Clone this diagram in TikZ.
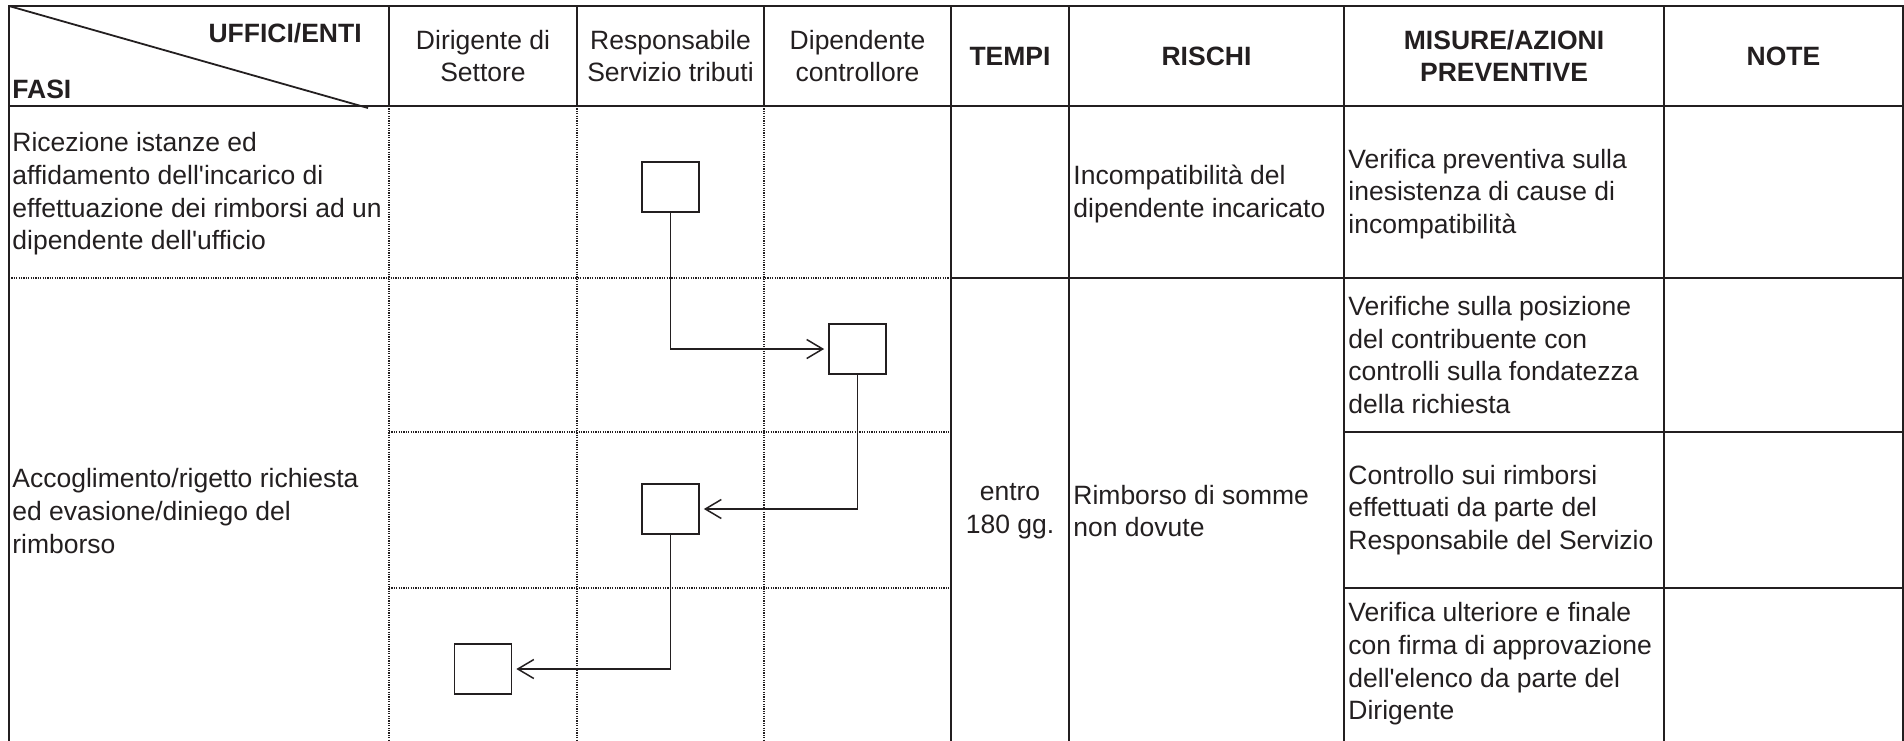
\documentclass[tikz,border=0pt]{standalone}
\usepackage{fontspec}
\setmainfont{Liberation Sans}[Ligatures=TeXOff]
\usetikzlibrary{arrows.meta}
\definecolor{ink}{RGB}{35,31,32}

\begin{document}
\begin{tikzpicture}[x=0.5pt,y=-0.5pt]
\def\ytop{6}
\def\yhd{106}
\def\yra{278}
\def\ybot{744}
\tikzset{
	every node/.style={text=ink, inner sep=0pt, font=\fontsize{13.25}{16.35}\selectfont},
	rule/.style={draw=ink, line width=1.1pt},
	dotrule/.style={draw=ink, line width=1pt, dash pattern=on 0.6pt off 0.6pt},
	head/.style={align=center},
	bold head/.style={align=center, font=\fontsize{13.25}{16.35}\selectfont\bfseries},
	cell/.style={anchor=west, align=left},
	flow box/.style={draw=ink, line width=0.85pt, minimum width=28.5pt, minimum height=25pt},
	flow/.style={draw=ink, line width=0.65pt, -{Straight Barb[length=8pt,width=9.5pt,line width=0.75pt]}, shorten >=2pt}
}
\useasboundingbox (0,0) rectangle (1904,740);
\draw[rule] (9,\ybot) -- (9,\ytop) -- (1903,\ytop) -- (1903,\ybot);
\draw[rule] (9,\yhd) -- (1903,\yhd);
\draw[dotrule] (9,\yra) -- (951,\yra);
\draw[rule] (951,\yra) -- (1903,\yra);
\foreach \x in {389,577,764}
{
	\draw[rule] (\x,\ytop) -- (\x,\yhd);
	\draw[dotrule] (\x,\yhd) -- (\x,\ybot);
}
\foreach \x in {951,1069,1344,1664}
	\draw[rule] (\x,\ytop) -- (\x,\ybot);
\foreach \y in {432,588}
{
	\draw[dotrule] (389,\y) -- (951,\y);
	\draw[rule] (1344,\y) -- (1903,\y);
}
\draw[draw=ink, line width=0.9pt] (9,\ytop) -- (368,108);
\node[bold head, anchor=base east] (uffici) at (362,42) {UFFICI/ENTI};
\node[bold head, anchor=base west] (fasi) at (12,98) {FASI};
\foreach \txt/\cx [count=\i] in {{Dirigente di\\Settore}/483, {Responsabile\\Servizio tributi}/670.5, {Dipendente\\controllore}/857.5}
	\node[head] (uff\i) at (\cx,56) {\txt};
\foreach \txt/\cx [count=\i] in {TEMPI/1010, RISCHI/1206.5, {MISURE/AZIONI\\PREVENTIVE}/1504, NOTE/1783.5}
	\node[bold head] (col\i) at (\cx,56) {\txt};
\node[cell] (fase1) at (12,194) {Ricezione istanze ed\\affidamento dell'incarico di\\effettuazione dei rimborsi ad un\\dipendente dell'ufficio};
\node[cell] (risc1) at (1073,194) {Incompatibilità del\\dipendente incaricato};
\node[cell] (mis1) at (1348,194) {Verifica preventiva sulla\\inesistenza di cause di\\incompatibilità};
\node[cell] (fase2) at (12,511) {Accoglimento/rigetto richiesta\\ed evasione/diniego del\\rimborso};
\node[head] (tempi2) at (1010,511) {entro\\180 gg.};
\node[cell] (risc2) at (1073,511) {Rimborso di somme\\non dovute};
\foreach \txt/\y [count=\i from 2] in {{Verifiche sulla posizione\\del contribuente con\\controlli sulla fondatezza\\della richiesta}/355, {Controllo sui rimborsi\\effettuati da parte del\\Responsabile del Servizio}/510, {Verifica ulteriore e finale\\con firma di approvazione\\dell'elenco da parte del\\Dirigente}/664}
	\node[cell] (mis\i) at (1348,\y) {\txt};
\node[flow box] (resp1) at (670.5,187) {};
\node[flow box] (dip2) at (857.5,349) {};
\node[flow box] (resp3) at (670.5,509) {};
\node[flow box] (diri4) at (483,669) {};
\draw[flow] (resp1.south) |- (dip2.west);
\draw[flow] (dip2.south) |- (resp3.east);
\draw[flow] (resp3.south) |- (diri4.east);
\end{tikzpicture}
\end{document}
